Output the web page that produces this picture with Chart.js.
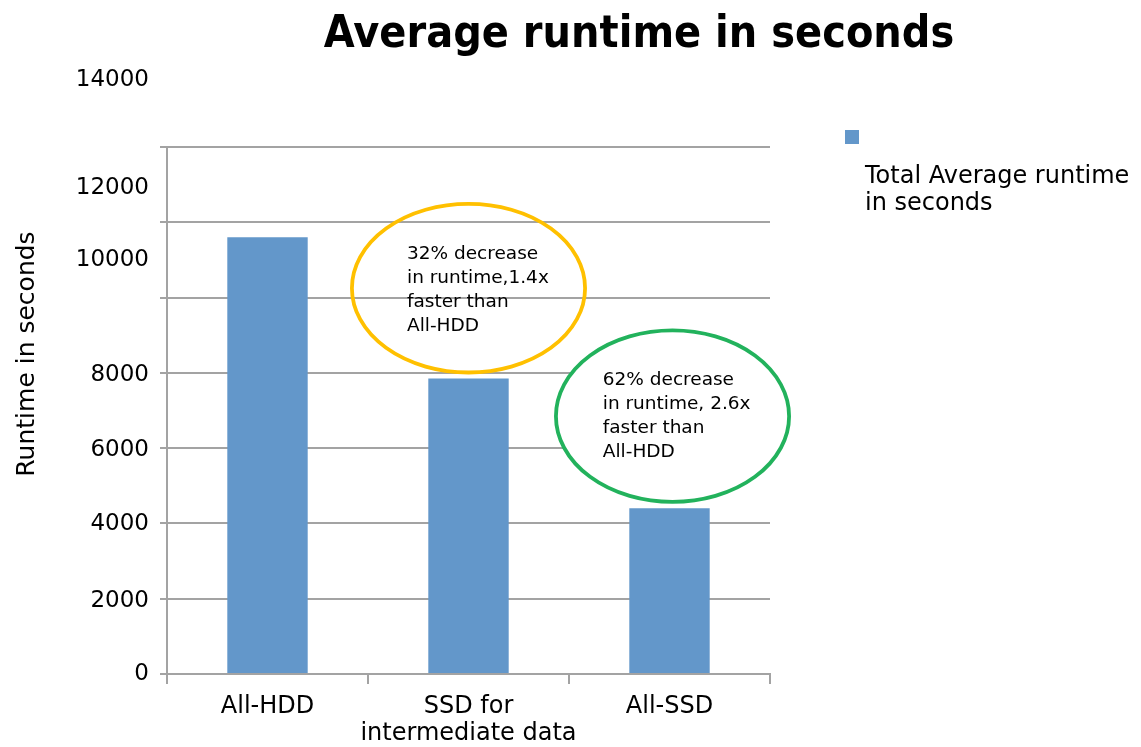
<!DOCTYPE html>
<html>
<head>
<meta charset="utf-8">
<script src="https://cdn.jsdelivr.net/npm/chart.js@4"></script>
<style>
  html, body { margin: 0; padding: 0; background: #ffffff; }
  #wrap { width: 1141px; height: 747px; position: relative; }
</style>
</head>
<body>
<div id="wrap"><canvas id="c" width="1141" height="747"></canvas></div>
<script>
// ---- data ----
const categories = ['All-HDD', ['SSD for', 'intermediate data'], 'All-SSD'];
const seriesName = 'Total Average runtime in seconds';
const runtimeValues = [11600, 7850, 4400];

// y tick labels and the value at which each label sits (labels are offset in the original)
const yTickLabels = ['14000', '12000', '10000', '8000', '6000', '4000', '2000', '0'];
const yTickLabelAt = [15840, 12970, 11070, 8020, 6020, 4040, 2000, 70];

// callouts: [centerCategoryIndex, centerValue, radiusInCategories, radiusInValue]
const calloutYellowText = ['32% decrease', 'in runtime,1.4x', 'faster than', 'All-HDD'];
const calloutYellowShape = [1.0, 10250, 0.58, 2240];
const calloutYellowTextAt = [0.694, 11030];
const calloutGreenText = ['62% decrease', 'in runtime, 2.6x', 'faster than', 'All-HDD'];
const calloutGreenShape = [2.015, 6850, 0.58, 2280];
const calloutGreenTextAt = [1.668, 7670];

const FONT = "'DejaVu Sans', Verdana, sans-serif";
const BAR_COLOR = '#6397CA';
const GRID_COLOR = '#A3A3A3';

const decorPlugin = {
  id: 'decor',
  afterDatasetsDraw(chart) {
    const ctx = chart.ctx;
    const xs = chart.scales.x, ys = chart.scales.y;
    const catW = xs.getPixelForValue(1) - xs.getPixelForValue(0);
    const valPx = v => ys.getPixelForValue(v);
    function ellipse(shape, color, fill) {
      const cx = xs.getPixelForValue(shape[0]);
      const cy = valPx(shape[1]);
      const rx = shape[2] * catW;
      const ry = Math.abs(valPx(0) - valPx(shape[3]));
      ctx.save();
      ctx.beginPath();
      ctx.ellipse(cx, cy, rx, ry, 0, 0, Math.PI * 2);
      if (fill) { ctx.fillStyle = fill; ctx.fill(); }
      ctx.lineWidth = 3.8;
      ctx.strokeStyle = color;
      ctx.stroke();
      ctx.restore();
    }
    function lines(text, at) {
      ctx.save();
      ctx.font = '18.5px ' + FONT;
      ctx.fillStyle = '#000';
      ctx.textAlign = 'left';
      ctx.textBaseline = 'alphabetic';
      const x = xs.getPixelForValue(at[0]);
      let y = valPx(at[1]);
      text.forEach(t => { ctx.fillText(t, x, y); y += 24; });
      ctx.restore();
    }
    ellipse(calloutYellowShape, '#FFC000', null);
    ellipse(calloutGreenShape, '#22B25C', '#ffffff');
    lines(calloutYellowText, calloutYellowTextAt);
    lines(calloutGreenText, calloutGreenTextAt);
  },
  afterDraw(chart) {
    const ctx = chart.ctx;
    const ys = chart.scales.y;
    const area = chart.chartArea;
    ctx.save();
    // y tick labels
    ctx.font = '23px ' + FONT;
    ctx.fillStyle = '#000';
    ctx.textAlign = 'right';
    ctx.textBaseline = 'alphabetic';
    const half = ctx.measureText('0').actualBoundingBoxAscent / 2;
    yTickLabels.forEach((lab, i) => {
      ctx.fillText(lab, area.left - 18, ys.getPixelForValue(yTickLabelAt[i]) + half);
    });
    // title (slightly tall face in the original)
    ctx.save();
    ctx.translate(639, 47);
    ctx.scale(1, 1.12);
    ctx.font = 'bold 40px ' + FONT;
    ctx.textAlign = 'center';
    ctx.fillText('Average runtime in seconds', 0, 0);
    ctx.restore();
    // y axis title
    ctx.save();
    ctx.translate(34, 354);
    ctx.rotate(-Math.PI / 2);
    ctx.font = '25px ' + FONT;
    ctx.textAlign = 'center';
    ctx.fillText('Runtime in seconds', 0, 0);
    ctx.restore();
    // legend
    const ds = chart.data.datasets[0];
    ctx.fillStyle = ds.backgroundColor;
    ctx.fillRect(845, 130, 14, 14);
    ctx.fillStyle = '#000';
    ctx.font = '24px ' + FONT;
    ctx.textAlign = 'left';
    ctx.fillText('Total Average runtime', 865, 183);
    ctx.fillText('in seconds', 865, 210);
    ctx.restore();
  }
};

new Chart(document.getElementById('c'), {
  type: 'bar',
  data: {
    labels: categories,
    datasets: [{
      label: seriesName,
      data: runtimeValues,
      backgroundColor: BAR_COLOR,
      borderWidth: 0,
      barPercentage: 0.4,
      categoryPercentage: 1.0
    }]
  },
  options: {
    responsive: false,
    animation: false,
    layout: { padding: { left: 160, top: 147, right: 371, bottom: 0 } },
    plugins: {
      legend: { display: false },
      title: { display: false },
      tooltip: { enabled: false }
    },
    scales: {
      x: {
        offset: true,
        grid: { offset: true, drawOnChartArea: false, drawTicks: true, tickLength: 10, color: GRID_COLOR, lineWidth: 2 },
        border: { display: true, color: GRID_COLOR, width: 2 },
        ticks: { color: '#000', padding: 9, maxRotation: 0, autoSkip: false,
                 font: { family: FONT, size: 24, lineHeight: 1.125 } },
        afterFit(scale) { scale.height = 73; }
      },
      y: {
        min: 0, max: 14000,
        ticks: { display: false, stepSize: 2000 },
        grid: { color: GRID_COLOR, lineWidth: 2, drawTicks: true, tickLength: 7 },
        border: { display: true, color: GRID_COLOR, width: 2 },
        afterFit(scale) { scale.width = 7; }
      }
    }
  },
  plugins: [decorPlugin]
});
</script>
</body>
</html>
